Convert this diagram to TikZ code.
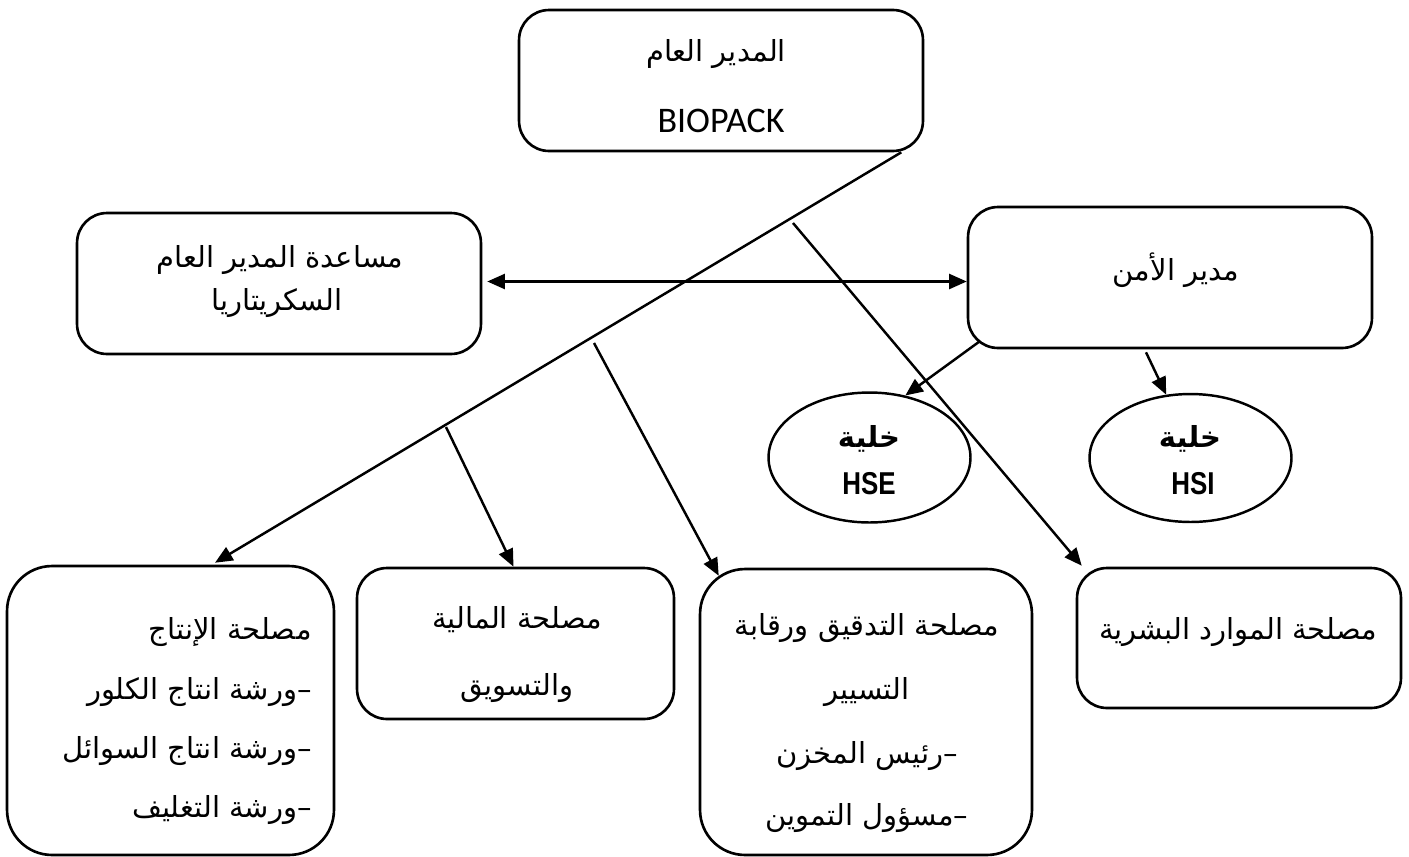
\documentclass[tikz,border=0pt]{standalone}
\usepackage{fontspec}
\usepackage{graphicx}
\usetikzlibrary{arrows.meta,calc,shapes.geometric}
\TeXXeTstate=1
\newfontfamily\arabicfont[Script=Arabic]{DejaVu Sans}
\newfontfamily\latinfont{Carlito}
\newfontfamily\headsans{Liberation Sans}
\newcommand\artext[1]{{\arabicfont\beginR #1\endR}}
% list item: Arabic words led by a dash on their right-hand side
\newcommand\aritem[1]{\artext{#1}{\arabicfont –}}

\begin{document}
\begin{tikzpicture}[x=0.02cm,y=-0.02cm,
  orgbox/.style={draw, line width=1.5pt, inner sep=0pt, rounded corners=#1},
  orgbox/.default=0.6cm,
  cell/.style={draw, ellipse, line width=1.4pt, inner sep=0pt},
  lbl/.style={inner sep=0pt, font=\fontsize{16.5}{19}\selectfont},
  tip/.tip={Triangle[length=10pt,width=8.5pt]},
  link/.style={line width=1.4pt, -tip},
  both/.style={line width=1.4pt, tip-tip}]

\useasboundingbox (0,0) rectangle (1409,856);

% boxes
\node[orgbox, minimum width=8.08cm, minimum height=2.82cm] (gm) at (721,80.5) {};
\node[orgbox, minimum width=8.08cm, minimum height=2.82cm] (asst) at (279,283.5) {};
\node[orgbox, minimum width=8.08cm, minimum height=2.82cm] (sec) at (1170,277.5) {};
\node[cell, minimum width=4.04cm, minimum height=2.6cm] (hse) at (869.5,457.5) {};
\node[cell, minimum width=4.04cm, minimum height=2.56cm] (hsi) at (1190.5,458) {};
\node[orgbox=0.9cm, minimum width=6.54cm, minimum height=5.78cm] (prod) at (170.5,710.5) {};
\node[orgbox, minimum width=6.34cm, minimum height=3.02cm] (fin) at (515.5,643.5) {};
\node[orgbox=0.9cm, minimum width=6.64cm, minimum height=5.72cm] (aud) at (866,712) {};
\node[orgbox, minimum width=6.48cm, minimum height=2.8cm] (hr) at (1239,638) {};

% texts
\node[lbl] (gmA) at (716,54) {\artext{المدير العام}};
\node[lbl, font=\latinfont\fontsize{20.5}{23}\selectfont] (gmB) at (721,121) {BIOPACK};
\node[lbl] (asA) at (280,260) {\artext{مساعدة المدير العام}};
\node[lbl] (asB) at (277,303) {\artext{السكريتاريا}};
\node[lbl] (secA) at (1176,270) {\artext{مدير الأمن}};
\node[lbl, font=\fontsize{16.5}{19}\selectfont\bfseries] (hseA) at (869,439) {\artext{خلية}};
\node[lbl, font=\headsans\bfseries\fontsize{18}{21}\selectfont] (hseB) at (869,484) {\scalebox{0.82}[1]{HSE}};
\node[lbl, font=\fontsize{16.5}{19}\selectfont\bfseries] (hsiA) at (1190,439) {\artext{خلية}};
\node[lbl, font=\headsans\bfseries\fontsize{18}{21}\selectfont] (hsiB) at (1193,484) {\scalebox{0.82}[1]{HSI}};
\node[lbl, anchor=east] (prA) at (312,632) {\artext{مصلحة الإنتاج}};
\node[lbl, anchor=east] (prB) at (312,692) {\aritem{ورشة انتاج الكلور}};
\node[lbl, anchor=east] (prC) at (312,751) {\aritem{ورشة انتاج السوائل}};
\node[lbl, anchor=east] (prD) at (312,810) {\aritem{ورشة التغليف}};
\node[lbl] (fnA) at (517,620) {\artext{مصلحة المالية}};
\node[lbl] (fnB) at (517,688) {\artext{والتسويق}};
\node[lbl] (auA) at (867,628) {\artext{مصلحة التدقيق ورقابة}};
\node[lbl] (auB) at (867,692) {\artext{التسيير}};
\node[lbl] (auC) at (867,756) {\aritem{رئيس المخزن}};
\node[lbl] (auD) at (867,818) {\aritem{مسؤول التموين}};
\node[lbl] (hrA) at (1238,632) {\artext{مصلحة الموارد البشرية}};

% branch points just under the main diagonal
\coordinate (jHR) at (793,223);
\coordinate (jAud) at (594,343);
\coordinate (jFin) at (446,427);

% connectors
\draw[link] ([xshift=-0.46cm]gm.south east) -- ($(prod.north)+(44.5,-2)$);
\draw[link] (jHR) -- ($(hr.north west)+(6,-1)$);
\draw[link] (jAud) -- ($(aud.north west)+(20,8)$);
\draw[link] (jFin) -- ($(fin.north)+(-2,0)$);
\draw[both] ($(asst.east)+(5,-2)$) coordinate (dl) -- (dl -| sec.west);
\draw[link] ($(sec.south west)+(13,-8)$) -- (hse.60);
\draw[link] ($(sec.south)+(-24,3)$) -- (hsi.111);
\end{tikzpicture}
\end{document}
